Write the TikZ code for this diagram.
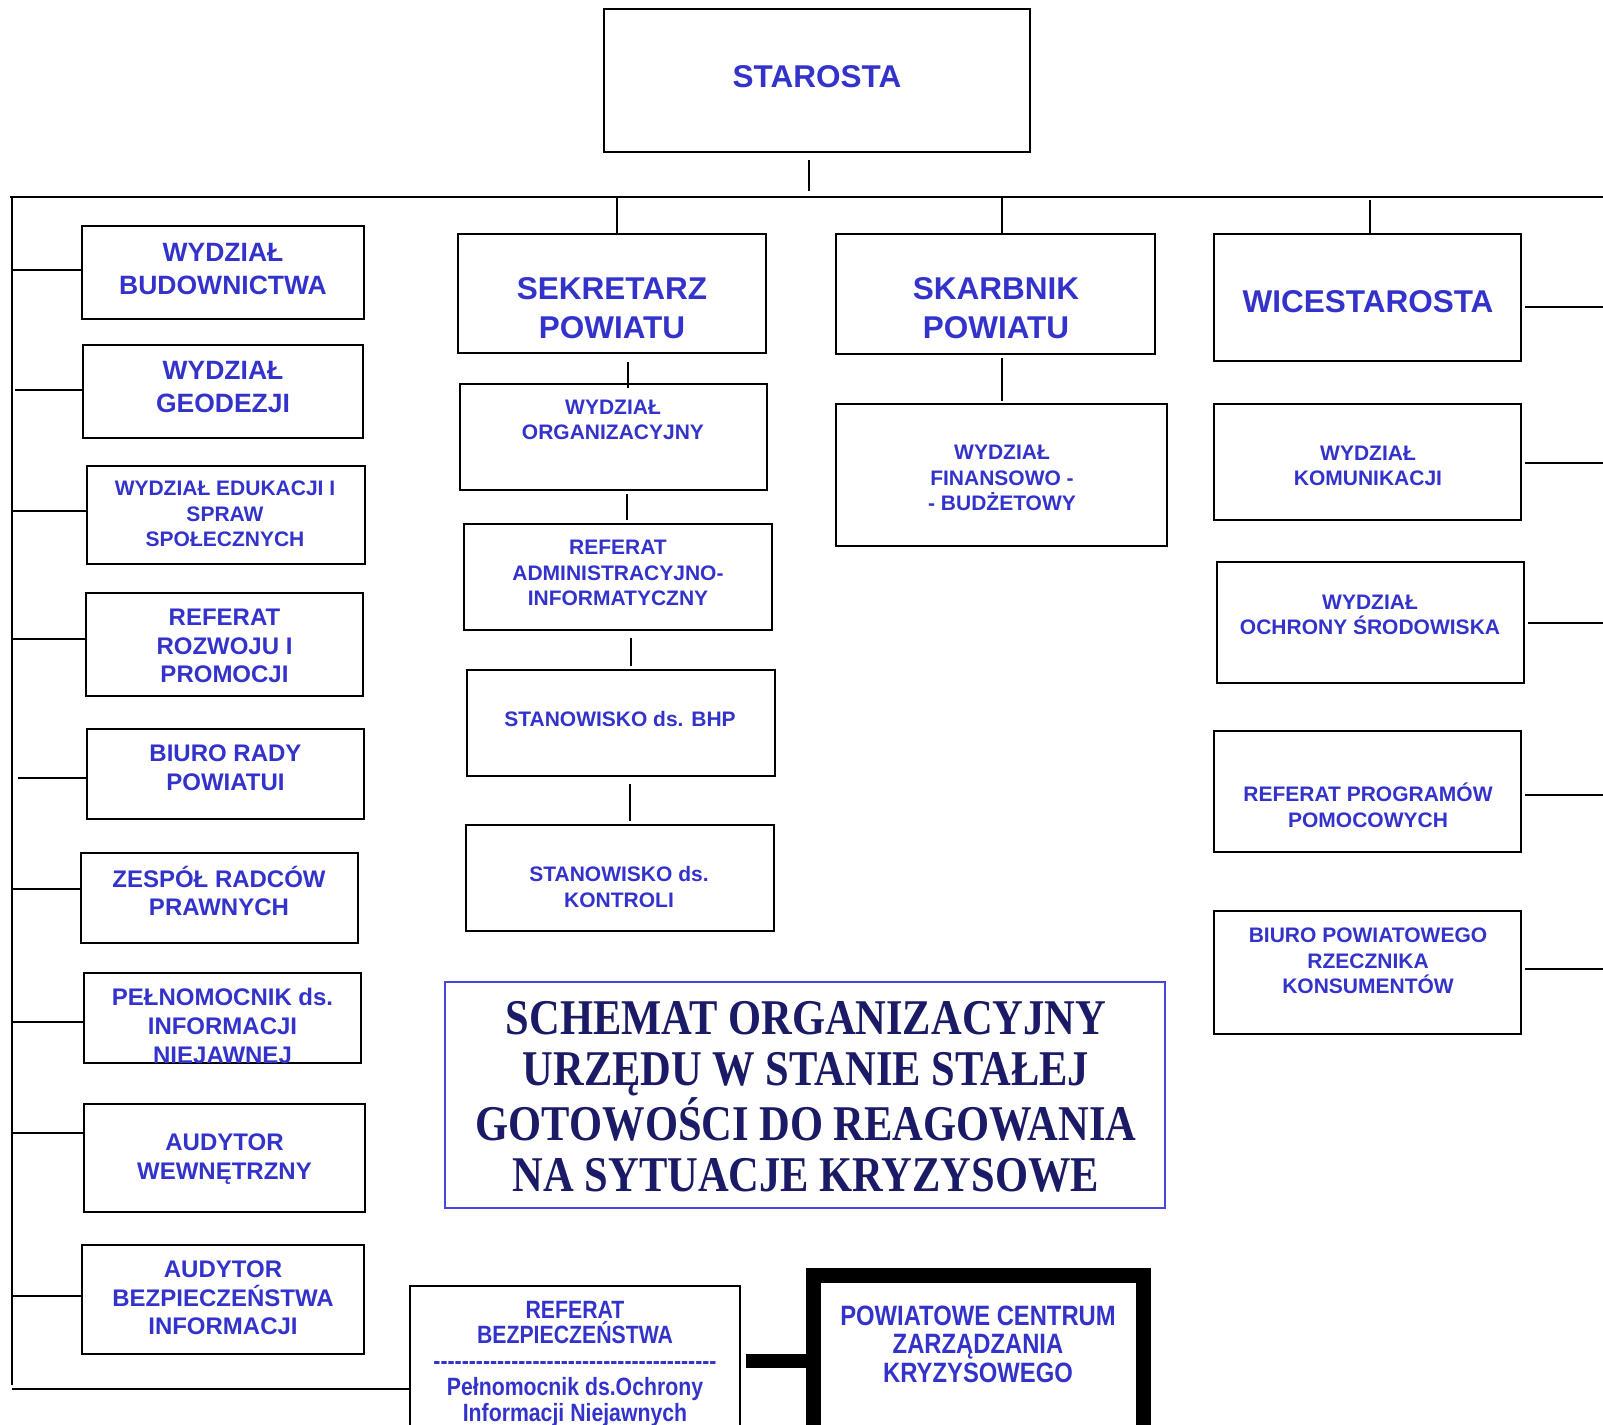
\documentclass[tikz,border=0pt]{standalone}
\usepackage{fontspec}
\setmainfont{Liberation Sans}
\newfontfamily\condsans{Liberation Sans}[FakeStretch=0.85, Ligatures=TeXOff]
\newfontfamily\condserif{Liberation Serif}[FakeStretch=0.85]
\usetikzlibrary{calc}

\definecolor{txtblue}{RGB}{51,51,204}
\definecolor{navy}{RGB}{26,26,102}
\definecolor{frameblue}{RGB}{70,70,220}

\tikzset{
  box/.style={draw, line width=2.2pt, inner sep=0pt, outer sep=0pt},
  conn/.style={line width=2pt},
  trunk/.style={line width=2.6pt},
  bar/.style={line width=14pt},
  lbl/.style={text=txtblue, align=center, inner sep=0pt},
  t31/.style={lbl, font=\bfseries\fontsize{31.5}{38.8}\selectfont},
  t26/.style={lbl, font=\bfseries\fontsize{26.5}{32.7}\selectfont},
  t24/.style={lbl, font=\bfseries\fontsize{24}{28.6}\selectfont},
  t21/.style={lbl, font=\bfseries\fontsize{21}{25.6}\selectfont},
}

\begin{document}
\begin{tikzpicture}[x=1pt, y=-1pt]
\clip (0,0) rectangle (1603,1424);
\useasboundingbox (0,0) rectangle (1603,1424);

\coordinate (mainL) at (10,197);
\coordinate (mainR) at (1603,197);
\coordinate (trunkTop) at (12,197);
\coordinate (trunkBot) at (12,1385);
\coordinate (rightEdge) at (1603,0);

% top
\node[box, minimum width=426pt, minimum height=143pt] (star) at (817,80.5) {};
\node[t31] (star-t) at (817,77) {STAROSTA};

% left column
\node[box, minimum width=282pt, minimum height=93pt] (bud) at (223,272.5) {};
\node[t26] (bud-t) at (223,269) {WYDZIAŁ\\BUDOWNICTWA};
\node[box, minimum width=280pt, minimum height=93pt] (geo) at (223,391.5) {};
\node[t26] (geo-t) at (223,387) {WYDZIAŁ\\GEODEZJI};
\node[box, minimum width=278pt, minimum height=98pt] (edu) at (226,515) {};
\node[t21] (edu-t) at (225,514) {WYDZIAŁ EDUKACJI I\\SPRAW\\SPOŁECZNYCH};
\node[box, minimum width=277pt, minimum height=103pt] (roz) at (224.5,644.5) {};
\node[t24] (roz-t) at (224.5,646) {REFERAT\\ROZWOJU I\\PROMOCJI};
\node[box, minimum width=277pt, minimum height=90pt] (rady) at (225.5,774) {};
\node[t24] (rady-t) at (225.5,768) {BIURO RADY\\POWIATUI};
\node[box, minimum width=277pt, minimum height=90pt] (radcy) at (219.5,898) {};
\node[t24] (radcy-t) at (219,891) {ZESPÓŁ RADCÓW\\PRAWNYCH};
\node[box, minimum width=277pt, minimum height=90pt] (peln) at (222.5,1018) {};
\node[t24] (peln-t) at (222.5,1026) {PEŁNOMOCNIK ds.\\INFORMACJI\\NIEJAWNEJ};
\node[box, minimum width=281pt, minimum height=108pt] (audw) at (224.5,1158) {};
\node[t24] (audw-t) at (224.5,1159) {AUDYTOR\\WEWNĘTRZNY};
\node[box, minimum width=282pt, minimum height=109pt] (audb) at (223,1299.5) {};
\node[t24] (audb-t) at (223,1298) {AUDYTOR\\BEZPIECZEŃSTWA\\INFORMACJI};

% sekretarz
\node[box, minimum width=308pt, minimum height=119pt] (sek) at (612,293.5) {};
\node[t31] (sek-t) at (612,308) {SEKRETARZ\\POWIATU};
\node[box, minimum width=307pt, minimum height=106pt] (org) at (613.5,437) {};
\node[t21] (org-t) at (613,420) {WYDZIAŁ\\ORGANIZACYJNY};
\node[box, minimum width=308pt, minimum height=106pt] (adm) at (618,577) {};
\node[t21] (adm-t) at (618,573) {REFERAT\\ADMINISTRACYJNO-\\INFORMATYCZNY};
\node[box, minimum width=308pt, minimum height=106pt] (bhp) at (621,723) {};
\node[t21] (bhp-t) at (620,719) {STANOWISKO ds. BHP};
\node[box, minimum width=308pt, minimum height=106pt] (kon) at (620,878) {};
\node[t21] (kon-t) at (619,887) {STANOWISKO ds.\\KONTROLI};

% skarbnik
\node[box, minimum width=319pt, minimum height=120pt] (skb) at (995.5,294) {};
\node[t31] (skb-t) at (996,308) {SKARBNIK\\POWIATU};
\node[box, minimum width=331pt, minimum height=142pt] (fin) at (1001.5,475) {};
\node[t21] (fin-t) at (1002,478) {WYDZIAŁ\\FINANSOWO -\\- BUDŻETOWY};

% wicestarosta
\node[box, minimum width=307pt, minimum height=127pt] (wice) at (1367.5,297.5) {};
\node[t31] (wice-t) at (1368,301.5) {WICESTAROSTA};
\node[box, minimum width=307pt, minimum height=116pt] (kom) at (1367.5,462) {};
\node[t21] (kom-t) at (1368,466) {WYDZIAŁ\\KOMUNIKACJI};
\node[box, minimum width=307pt, minimum height=121pt] (ochr) at (1370.5,622.5) {};
\node[t21] (ochr-t) at (1370,615) {WYDZIAŁ\\OCHRONY ŚRODOWISKA};
\node[box, minimum width=307pt, minimum height=121pt] (prog) at (1367.5,791.5) {};
\node[t21] (prog-t) at (1368,805) {REFERAT PROGRAMÓW\\POMOCOWYCH};
\node[box, minimum width=307pt, minimum height=123pt] (brz) at (1367.5,972.5) {};
\node[t21] (brz-t) at (1368,961) {BIURO POWIATOWEGO\\RZECZNIKA\\KONSUMENTÓW};

% title
\node[draw=frameblue, line width=1.3pt, minimum width=720pt, minimum height=226pt, inner sep=0pt] (title) at (805,1095) {};
\node[text=navy, align=center, inner sep=0pt,
  font=\condserif\bfseries\fontsize{50}{51.3}\selectfont] (title-t) at (806,1097)
  {SCHEMAT ORGANIZACYJNY\\URZĘDU W STANIE STAŁEJ\\GOTOWOŚCI DO REAGOWANIA\\NA SYTUACJE KRYZYSOWE};

% bottom
\node[box, minimum width=330pt, minimum height=184pt] (bezp) at (575,1378) {};
\node[lbl, font=\condsans\bfseries\fontsize{25}{25.75}\selectfont] (bezp-t) at (575,1363.5)
  {REFERAT\\BEZPIECZEŃSTWA\\----------------------------------------\\Pełnomocnik ds.Ochrony\\Informacji Niejawnych};
\node[box, line width=15pt, minimum width=330pt, minimum height=194.5pt] (pow) at (978.5,1372.75) {};
\node[lbl, font=\condsans\bfseries\fontsize{28}{28.6}\selectfont] (pow-t) at (978,1344)
  {POWIATOWE CENTRUM\\ZARZĄDZANIA\\KRYZYSOWEGO};

% lines
\draw[conn] (mainL) -- (mainR);
\draw[trunk] (trunkTop) -- (trunkBot);
\draw[conn, shorten <=8pt, shorten >=6pt] ([xshift=-8pt]star.south) -- ([xshift=-8pt]star.south |- mainL);

\foreach \n/\dx/\dy in {bud/0/2.5, geo/3.3/1.5, edu/0/4, roz/0/5.5, rady/6.4/-4,
                        radcy/0/9, peln/0/-4, audw/0/25, audb/0/3.5}
  \draw[conn] ([xshift=\dx pt, yshift=\dy pt]\n.west -| trunkTop) -- ([yshift=\dy pt]\n.west);

\draw[conn] ([xshift=5pt]sek.north) -- ([xshift=5pt]sek.north |- mainL);
\draw[conn] ([xshift=6.5pt]skb.north) -- ([xshift=6.5pt]skb.north |- mainL);
\draw[conn, shorten >=3pt] ([xshift=2.5pt]wice.north) -- ([xshift=2.5pt]wice.north |- mainL);

\draw[conn, shorten <=9pt, shorten >=-4pt] ([xshift=16pt]sek.south) -- ([xshift=16pt]sek.south |- org.north);
\draw[conn, shorten <=4pt, shorten >=4pt] ([xshift=13.5pt]org.south) -- ([xshift=13.5pt]org.south |- adm.north);
\draw[conn, shorten <=8pt, shorten >=4pt] ([xshift=13pt]adm.south) -- ([xshift=13pt]adm.south |- bhp.north);
\draw[conn, shorten <=8pt, shorten >=4pt] ([xshift=9pt]bhp.south) -- ([xshift=9pt]bhp.south |- kon.north);
\draw[conn, shorten <=4pt, shorten >=3pt] ([xshift=6.5pt]skb.south) -- ([xshift=6.5pt]skb.south |- fin.north);

\foreach \n/\dy in {wice/-9.5, kom/-1, ochr/0, prog/-3.5, brz/3.5}
  \draw[conn] ([xshift=4pt, yshift=\dy pt]\n.east) -- ([yshift=\dy pt]\n.east -| rightEdge);

\draw[conn] ([yshift=-11pt]bezp.west) -- ([yshift=-11pt]bezp.west -| trunkTop);
\coordinate (barL) at ([xshift=6pt, yshift=17pt]bezp.east);
\draw[bar] (barL) -- (barL -| pow.west);
\end{tikzpicture}
\end{document}
